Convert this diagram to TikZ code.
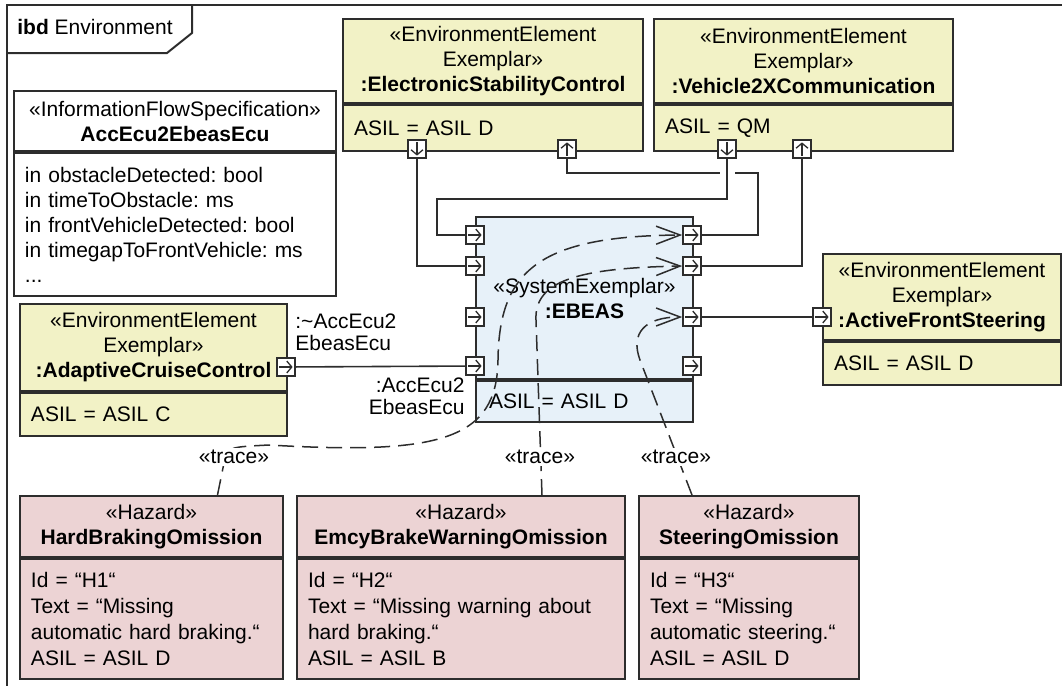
\documentclass[tikz,border=0pt]{standalone}
\usepackage{fontspec}
\setmainfont{Liberation Sans}
\usetikzlibrary{arrows.meta,positioning,calc}

\definecolor{envyellow}{RGB}{242,242,198}
\definecolor{sysblue}{RGB}{231,241,249}
\definecolor{hazpink}{RGB}{236,211,212}
\definecolor{umlline}{RGB}{45,45,45}

\newcommand{\umlfont}{\fontsize{10.5}{12.5}\selectfont\frenchspacing}

\begin{document}
\begin{tikzpicture}[x=0.5pt, y=-0.5pt,
    every node/.style={font=\umlfont},
    diagframe/.style={draw=umlline, line width=1pt},
    umlhead/.style={draw=umlline, line width=1pt, anchor=north west, align=center, inner sep=0pt},
    umlbody/.style={draw=umlline, line width=1pt, anchor=north west, align=left, inner xsep=5.5pt, inner ysep=0pt},
    portarrow/.style={line width=.65pt, -{Straight Barb[length=2.5pt,width=6pt]}},
    port/.style={draw=umlline, fill=white, line width=.75pt, minimum size=9pt, inner sep=0pt},
    portR/.style={port, path picture={\draw[portarrow] ([xshift=1.2pt]path picture bounding box.west) -- ([xshift=-1.2pt]path picture bounding box.east);}},
    portD/.style={port, path picture={\draw[portarrow] ([yshift=-1.2pt]path picture bounding box.north) -- ([yshift=1.2pt]path picture bounding box.south);}},
    portU/.style={port, path picture={\draw[portarrow] ([yshift=1.2pt]path picture bounding box.south) -- ([yshift=-1.2pt]path picture bounding box.north);}},
    conn/.style={draw=umlline, line width=.8pt},
    trace/.style={draw=umlline, line width=.75pt, dash pattern=on 8pt off 4pt, -{Straight Barb[length=12pt,width=9pt]}},
    tracelbl/.style={fill=white, inner sep=1pt},
    lbl/.style={font=\fontsize{10.5}{11}\selectfont, inner sep=1pt}
]
    \useasboundingbox (0,0) rectangle (1062,686);
    \clip (0,0) rectangle (1062,686);

    % diagram frame
    \draw[diagframe] (7,5) rectangle (1090,700);
    \node[anchor=west, inner sep=0pt] (title) at (17,27) {\textbf{ibd} Environment};
    \draw[diagframe] (7,53) -- (167,53) -- (192,33) -- (192,5);

    % information flow specification
    \node[umlhead, fill=white, minimum width=161pt, minimum height=30pt] (ifshead) at (13,90) {«InformationFlowSpecification»\\\textbf{AccEcu2EbeasEcu}};
    \node[umlbody, fill=white, text width=150pt, minimum height=71.5pt] (ifsbody) at (ifshead.south west)
        {in obstacleDetected: bool\\in timeToObstacle: ms\\in frontVehicleDetected: bool\\in timegapToFrontVehicle: ms\\...};

    % environment elements
    \node[umlhead, fill=envyellow, minimum width=150pt, minimum height=42pt] (eschead) at (342,18) {«EnvironmentElement\\Exemplar»\\\textbf{:ElectronicStabilityControl}};
    \node[umlbody, fill=envyellow, text width=139pt, minimum height=23pt] (escbody) at (eschead.south west) {ASIL = ASIL D};

    \node[umlhead, fill=envyellow, minimum width=149.5pt, minimum height=42pt] (v2xhead) at (653,18) {«EnvironmentElement\\Exemplar»\\\textbf{:Vehicle2XCommunication}};
    \node[umlbody, fill=envyellow, text width=138.5pt, minimum height=23pt] (v2xbody) at (v2xhead.south west) {ASIL = QM};

    \node[umlhead, fill=envyellow, minimum width=133.5pt, minimum height=43.5pt] (acchead) at (19,303) {«EnvironmentElement\\Exemplar»\\\textbf{:AdaptiveCruiseControl}};
    \node[umlbody, fill=envyellow, text width=122.5pt, minimum height=21.5pt] (accbody) at (acchead.south west) {ASIL = ASIL C};

    \node[umlhead, fill=envyellow, minimum width=119pt, minimum height=43pt] (afshead) at (822,253) {«EnvironmentElement\\Exemplar»\\\textbf{:ActiveFrontSteering}};
    \node[umlbody, fill=envyellow, text width=108pt, minimum height=21.5pt] (afsbody) at (afshead.south west) {ASIL = ASIL D};

    % system under consideration
    \node[umlhead, fill=sysblue, minimum width=108.5pt, minimum height=81pt] (ebhead) at (475,216) {«SystemExemplar»\\\textbf{:EBEAS}};
    \node[umlbody, fill=sysblue, text width=95.5pt, minimum height=20.5pt, inner xsep=6.5pt] (ebbody) at (ebhead.south west) {ASIL = ASIL D};

    % hazards
    \node[umlhead, fill=hazpink, minimum width=131.5pt, minimum height=30.5pt] (h1head) at (19,495) {«Hazard»\\\textbf{HardBrakingOmission}};
    \node[umlbody, fill=hazpink, text width=120.5pt, minimum height=60pt, font=\fontsize{10.5}{13}\selectfont] (h1body) at (h1head.south west)
        {Id = “H1“\\Text = “Missing\\automatic hard braking.“\\ASIL = ASIL D};

    \node[umlhead, fill=hazpink, minimum width=164pt, minimum height=30.5pt] (h2head) at (296,495) {«Hazard»\\\textbf{EmcyBrakeWarningOmission}};
    \node[umlbody, fill=hazpink, text width=153pt, minimum height=60pt, font=\fontsize{10.5}{13}\selectfont] (h2body) at (h2head.south west)
        {Id = “H2“\\Text = “Missing warning about\\hard braking.“\\ASIL = ASIL B};

    \node[umlhead, fill=hazpink, minimum width=110pt, minimum height=30.5pt] (h3head) at (638,495) {«Hazard»\\\textbf{SteeringOmission}};
    \node[umlbody, fill=hazpink, text width=99pt, minimum height=60pt, font=\fontsize{10.5}{13}\selectfont] (h3body) at (h3head.south west)
        {Id = “H3“\\Text = “Missing\\automatic steering.“\\ASIL = ASIL D};

    % ports
    \node[portD] (escout) at (417,149) {};
    \node[portU] (escin) at (567,149) {};
    \node[portD] (v2xout) at (727,149) {};
    \node[portU] (v2xin) at (802,149) {};
    \foreach \n/\y in {1/235, 2/266, 3/317, 4/366} {
        \node[portR] (ebL\n) at (475,\y) {};
        \node[portR] (ebR\n) at (692,\y) {};
    }
    \node[portR] (accport) at (286,367) {};
    \node[portR] (afsport) at (822,317) {};

    % port names
    \node[lbl, anchor=west, align=left] (acclbl) at (293,332) {:\string~AccEcu2\\EbeasEcu};
    \node[lbl, anchor=east, align=right] (eblbl) at (467,396) {:AccEcu2\\EbeasEcu};

    % connectors
    \draw[conn] (escout) |- (ebL2);
    \draw[conn] (escin) |- (720,173) (735,173) -| (758,235) -- (ebR1);
    \draw[conn] (v2xout) |- (437,199) |- (ebL1);
    \draw[conn] (v2xin) |- (ebR2);
    \draw[conn] (ebR3) -- (afsport);
    \draw[conn] (accport) -- (ebL4);

    % trace relations
    \draw[trace] ([xshift=33pt]h1head.north) -- (225,458) .. controls (230,447) .. (269,445)
        .. controls (440,455) and (497,440) .. (498,360) .. controls (499,270) and (540,236) .. (ebR1.west);
    \draw[trace] ([xshift=40.5pt]h2head.north) -- (536,320) .. controls (534,280) and (580,268) .. (ebR2.west);
    \draw[trace] ([xshift=-28.5pt]h3head.north) -- (640,360) .. controls (630,333) and (645,317) .. (ebR3.west);
    \node[tracelbl] (trace1) at (234,457) {«trace»};
    \node[tracelbl] (trace2) at (540,457) {«trace»};
    \node[tracelbl] (trace3) at (676,457) {«trace»};
\end{tikzpicture}
\end{document}
